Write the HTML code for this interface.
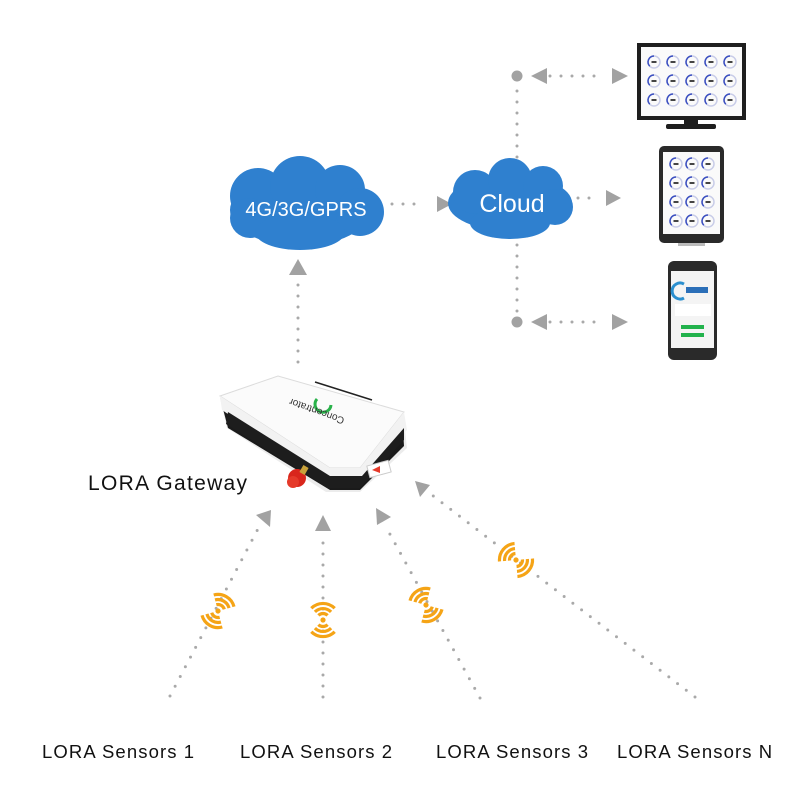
<!DOCTYPE html>
<html><head><meta charset="utf-8"><style>
html,body{margin:0;padding:0;background:#fff}
svg{display:block}
text{font-family:"Liberation Sans",sans-serif}
</style></head><body>
<svg width="800" height="800" viewBox="0 0 800 800" xmlns="http://www.w3.org/2000/svg">
<defs>
<g id="wifi" fill="none" stroke="#f5a416" stroke-width="3.2" stroke-linecap="butt">
  <circle cx="0" cy="0" r="2.6" fill="#f5a416" stroke="none"/>
  <path d="M-4.6,-4.6 A6.5,6.5 0 0 1 4.6,-4.6"/>
  <path d="M-8.1,-8.1 A11.5,11.5 0 0 1 8.1,-8.1"/>
  <path d="M-11.7,-11.7 A16.5,16.5 0 0 1 11.7,-11.7"/>
  <path d="M-4.6,4.6 A6.5,6.5 0 0 0 4.6,4.6"/>
  <path d="M-8.1,8.1 A11.5,11.5 0 0 0 8.1,8.1"/>
  <path d="M-11.7,11.7 A16.5,16.5 0 0 0 11.7,11.7"/>
</g>
<g id="gauge" fill="none">
  <circle r="6" stroke="#c9cde8" stroke-width="1.5"/>
  <path d="M-4.2,4.2 A6,6 0 0 1 0,-6" stroke="#3b4fc0" stroke-width="1.5"/>
  <rect x="-2.5" y="-1" width="5" height="2" fill="#444"/>
</g>
</defs>

<g fill="none" stroke="#a9a9a9" stroke-width="3" stroke-linecap="round" stroke-dasharray="0 11">
  <line x1="298" y1="362" x2="298" y2="282"/>
  <line x1="392" y1="204" x2="420" y2="204"/>
  <line x1="517" y1="80" x2="517" y2="318"/>
  <line x1="550" y1="76" x2="600" y2="76"/>
  <line x1="578" y1="198" x2="596" y2="198"/>
  <line x1="550" y1="322" x2="600" y2="322"/>
  <line x1="170" y1="696" x2="259" y2="527"/>
  <line x1="323" y1="697" x2="323" y2="540"/>
  <line x1="480" y1="698" x2="386" y2="527"/>
  <line x1="695" y1="697" x2="432" y2="495"/>
</g>
<g fill="#a2a2a2">
  <polygon points="298,259 289,275 307,275"/>
  <polygon points="437,196 437,212 452,204"/>
  <circle cx="517" cy="76" r="5.5"/>
  <circle cx="517" cy="322" r="5.5"/>
  <polygon points="531,76 547,68 547,84"/>
  <polygon points="628,76 612,68 612,84"/>
  <polygon points="621,198 606,190 606,206"/>
  <polygon points="531,322 547,314 547,330"/>
  <polygon points="628,322 612,314 612,330"/>
  <polygon points="271,510 256,515 270,527"/>
  <polygon points="323,515 315,531 331,531"/>
  <polygon points="376,508 377,525 391,517"/>
  <polygon points="415,481 430,485 420,497"/>
</g>

<g fill="#2f80cf">
  <ellipse cx="300" cy="210" rx="70" ry="36"/>
  <circle cx="258" cy="196" r="28"/>
  <circle cx="300" cy="186" r="30"/>
  <circle cx="340" cy="190" r="25"/>
  <circle cx="360" cy="212" r="24"/>
  <circle cx="250" cy="218" r="20"/>
  <ellipse cx="300" cy="232" rx="45" ry="18"/>
  <ellipse cx="510" cy="203" rx="62" ry="28"/>
  <circle cx="475" cy="192" r="22"/>
  <circle cx="510" cy="180" r="22"/>
  <circle cx="543" cy="186" r="20"/>
  <circle cx="555" cy="207" r="18"/>
  <ellipse cx="510" cy="223" rx="40" ry="16"/>
</g>
<text x="306" y="216" font-size="20" fill="#fff" text-anchor="middle">4G/3G/GPRS</text>
<text x="512" y="212" font-size="25" fill="#fff" text-anchor="middle">Cloud</text>

<rect x="637" y="43" width="109" height="77" fill="#1e1e1e"/>
<rect x="641" y="47" width="101" height="69" fill="#fafafa"/>
<rect x="684" y="120" width="14" height="5" fill="#1e1e1e"/>
<rect x="666" y="124" width="50" height="5" rx="2" fill="#1e1e1e"/>
<g>
  <use href="#gauge" x="654" y="62"/><use href="#gauge" x="673" y="62"/><use href="#gauge" x="692" y="62"/><use href="#gauge" x="711" y="62"/><use href="#gauge" x="730" y="62"/>
  <use href="#gauge" x="654" y="81"/><use href="#gauge" x="673" y="81"/><use href="#gauge" x="692" y="81"/><use href="#gauge" x="711" y="81"/><use href="#gauge" x="730" y="81"/>
  <use href="#gauge" x="654" y="100"/><use href="#gauge" x="673" y="100"/><use href="#gauge" x="692" y="100"/><use href="#gauge" x="711" y="100"/><use href="#gauge" x="730" y="100"/>
</g>
<rect x="659" y="146" width="65" height="97" rx="5" fill="#2a2a2a"/>
<rect x="663" y="152" width="57" height="82" fill="#fafafa"/>
<rect x="678" y="243" width="27" height="3" fill="#bbb"/>
<g>
  <use href="#gauge" x="676" y="164"/><use href="#gauge" x="692" y="164"/><use href="#gauge" x="708" y="164"/>
  <use href="#gauge" x="676" y="183"/><use href="#gauge" x="692" y="183"/><use href="#gauge" x="708" y="183"/>
  <use href="#gauge" x="676" y="202"/><use href="#gauge" x="692" y="202"/><use href="#gauge" x="708" y="202"/>
  <use href="#gauge" x="676" y="221"/><use href="#gauge" x="692" y="221"/><use href="#gauge" x="708" y="221"/>
</g>
<rect x="668" y="261" width="49" height="99" rx="6" fill="#2a2a2a"/>
<rect x="671" y="271" width="43" height="77" fill="#f4f4f4"/>
<path d="M684,284 A8,8 0 1 0 684,298" fill="none" stroke="#2b8fcf" stroke-width="3"/>
<rect x="686" y="287" width="22" height="6" fill="#2b6fb8"/>
<rect x="675" y="304" width="36" height="12" fill="#fff"/>
<rect x="681" y="325" width="23" height="4" fill="#22b24c"/>
<rect x="681" y="333" width="23" height="4" fill="#22b24c"/>

<polygon points="220,398 277,378 403,412 407,448 360,492 326,492 227,428" fill="#ececec"/>
<polygon points="222,405 228,428 330,490 360,490 404,446 403,430 356,480 328,482" fill="#1a1a1a"/>
<polygon points="220,396 278,376 404,412 360,468 330,468" fill="#fbfbfb" stroke="#dcdcdc" stroke-width="1"/>
<polygon points="330,468 360,468 404,412 407,430 362,482 328,482 222,410 220,396" fill="#f2f2f2"/>
<polygon points="228,412 330,476 362,476 404,428 404,440 360,488 328,488 226,424" fill="#1d1d1d"/>
<line x1="315" y1="382" x2="372" y2="400" stroke="#222" stroke-width="1.5"/>
<path d="M317,399 a8,8 0 1 0 14,6" fill="none" stroke="#29b24a" stroke-width="3"/>
<text x="0" y="0" font-size="10" fill="#333" transform="translate(345,418) rotate(200)">Concentrator</text>
<circle cx="297" cy="478" r="9" fill="#d9261c"/>
<circle cx="293" cy="482" r="6" fill="#e53a2a"/>
<rect x="301" y="466" width="6" height="8" fill="#c9a23a" transform="rotate(30 304 470)"/>
<rect x="368" y="463" width="22" height="12" fill="#fff" stroke="#ccc" transform="rotate(-15 379 469)"/>
<polygon points="372,470 380,466 380,473" fill="#e63a2a"/>

<text x="88" y="490" font-size="21" fill="#111" letter-spacing="1.3">LORA Gateway</text>

<use href="#wifi" transform="translate(218,611) rotate(30)"/>
<use href="#wifi" transform="translate(323,620)"/>
<use href="#wifi" transform="translate(426,605) rotate(-30)"/>
<use href="#wifi" transform="translate(516,560) rotate(-50)"/>

<g font-size="18.5" fill="#111" letter-spacing="1.1">
<text x="42" y="758">LORA Sensors 1</text>
<text x="240" y="758">LORA Sensors 2</text>
<text x="436" y="758">LORA Sensors 3</text>
<text x="617" y="758">LORA Sensors N</text>
</g>
</svg>
</body></html>
